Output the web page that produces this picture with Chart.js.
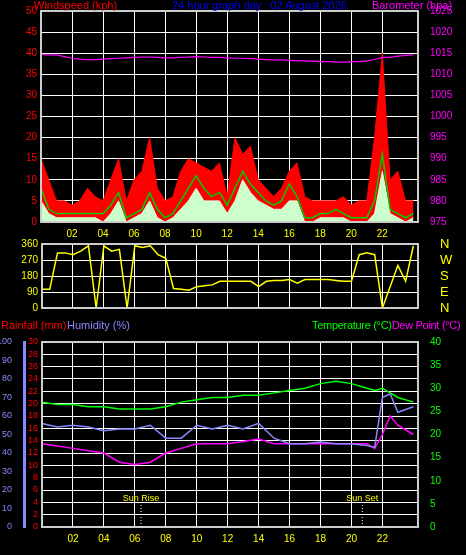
<!DOCTYPE html>
<html><head><meta charset="utf-8">
<script src="https://cdn.jsdelivr.net/npm/chart.js@4"></script>
<style>
body{margin:0;background:#000;width:466px;height:555px;overflow:hidden;font-family:"Liberation Sans",sans-serif;}
canvas{position:absolute;left:0;}
.t{position:absolute;font-size:11px;white-space:nowrap;z-index:2;}
</style></head><body>
<div class="t" style="left:34px;top:-1px;color:#f00">Windspeed (kph)</div>
<div class="t" style="left:172px;top:-1px;color:#00f">24 hour graph day : 02 August 2026</div>
<div class="t" style="left:372px;top:-1px;color:#f0f">Barometer (hpa)</div>
<div class="t" style="left:1px;top:319px;color:#f00">Rainfall (mm)</div>
<div class="t" style="left:67px;top:319px;color:#88f">Humidity (%)</div>
<div class="t" style="left:312px;top:319px;color:#0f0;letter-spacing:-0.3px">Temperature (°C)<span style="color:#f0f">Dew Point (°C)</span></div>
<canvas id="c1" width="466" height="245" style="top:0"></canvas>
<canvas id="c2" width="466" height="125" style="top:222px"></canvas>
<canvas id="c3" width="466" height="237" style="top:318px"></canvas>
<script>
const halfHours=[0,0.5,1,1.5,2,2.5,3,3.5,4,4.5,5,5.5,6,6.5,7,7.5,8,8.5,9,9.5,10,10.5,11,11.5,12,12.5,13,13.5,14,14.5,15,15.5,16,16.5,17,17.5,18,18.5,19,19.5,20,20.5,21,21.5,22,22.5,23,23.5,24];
const gust=[15,10,5,5,4,5,8,6,5,10,15,5,10,12,20,8,5,6,12,15,14,13,12,14,6,20,16,18,10,8,6,8,12,14,6,5,5,5,5,6,4,5,5,20,40,10,12,5,5];
const windAvg=[8,3,2,2,2,2,2,2,2,4,7,1,2,3,7,3,1,2,5,8,11,8,6,7,4,8,12,9,7,5,4,5,9,6,1,1,2,2,3,2,1,1,1,5,16,3,2,1,2];
const windLow=[5,2,1,1,1,1,1,1,0,2,5,0,1,2,5,1,0,1,3,5,8,5,5,5,2,5,10,7,5,4,3,3,5,5,0,0,1,1,1,1,0,0,0,2,12,2,1,0,1];
const baro=[1014.7,1014.6,1014.6,1014.2,1013.8,1013.6,1013.5,1013.5,1013.6,1013.7,1013.8,1013.9,1014,1014.1,1014.1,1014,1013.9,1013.9,1014,1014.1,1014.2,1014.1,1014,1014,1013.9,1013.8,1013.8,1013.7,1013.6,1013.5,1013.4,1013.4,1013.3,1013.2,1013.2,1013.1,1013,1013,1012.9,1012.9,1013,1013,1013.2,1013.5,1014,1014,1014.3,1014.5,1014.6];
const windDir=[105,105,310,310,300,320,350,0,350,320,330,0,350,340,350,300,280,110,105,100,120,125,130,150,150,150,150,150,120,150,155,155,160,140,160,160,160,160,155,150,150,300,310,300,0,120,240,150,350];
const hours=[0,1,2,3,4,5,6,7,8,9,10,11,12,13,14,15,16,17,18,19,20,21,21.5,22,22.5,23,24];
const temp=[27,26.5,26.5,26,26,25.5,25.5,25.5,26,27,27.5,28,28,28.5,28.5,29,29.5,30,31,31.5,31,30,29.5,30,29,28,27];
const humidity=[56,54,55,54,52,53,53,55,48,48,55,53,55,53,56,48,45,45,46,45,45,44,43,70,72,62,65];
const dewPoint=[18,17.5,17,16.5,16,14,13.5,14,16,17,18,18,18,18.5,19,18,18,18,18,18,18,18,17,20,24,22,20];
const rain=[0,0,0,0,0,0,0,0,0,0,0,0,0,0,0,0,0,0,0,0,0,0,0,0,0,0,0];
const hourTicks=['02','04','06','08','10','12','14','16','18','20','22','00'];
const compass=['N','E','S','W','N'];

Chart.defaults.font.family='"Liberation Sans",sans-serif';
Chart.defaults.font.size=10;
Chart.defaults.animation=false;
const pts=(xs,ys)=>xs.map((x,i)=>({x,y:ys[i]}));
const grid={color:'#fff',borderDash:[1,3],drawTicks:false};
const border={color:'#ccc',width:2};
function xAxis(color,h){return {type:'linear',min:0,max:24.3,
  ticks:{stepSize:2,color:color,autoSkip:false,padding:6,maxRotation:0,
    callback:v=>(v>0&&v%2===0)?hourTicks[v/2-1]:''},
  grid:grid,border:border,afterFit:s=>{s.height=h;}};}
function yAxis(pos,min,max,step,color,w,extra,font){return Object.assign({position:pos,min,max,
  ticks:{stepSize:step,color,padding:4,autoSkip:false,font:font||{size:10},callback:v=>String(v)},
  grid:{display:false},border:{color,width:1},afterFit:s=>{s.width=w;}},extra||{});}
const box={id:'box',afterDraw(c){const a=c.chartArea,x=c.ctx;x.save();x.strokeStyle='#ccc';x.lineWidth=2;x.strokeRect(a.left,a.top,a.right-a.left,a.bottom-a.top);x.restore();}};
const plug={legend:{display:false},tooltip:{enabled:false}};

new Chart(document.getElementById('c1'),{type:'line',
 data:{datasets:[
  {data:pts(halfHours,windLow),borderColor:'#dfd',backgroundColor:'#ccffcc',fill:'origin',borderWidth:1,pointRadius:0,yAxisID:'y',order:2},
  {data:pts(halfHours,gust),borderColor:'#f00',backgroundColor:'#f00',fill:'origin',borderWidth:1,pointRadius:0,yAxisID:'y',order:3},
  {data:pts(halfHours,windAvg),borderColor:'#0c0',borderWidth:1.5,pointRadius:0,yAxisID:'y',order:1},
  {data:pts(halfHours,baro),borderColor:'#f0f',borderWidth:1.2,pointRadius:0,yAxisID:'y2',order:0}]},
 options:{responsive:false,layout:{autoPadding:false,padding:{top:11}},plugins:plug,
  scales:{x:xAxis('#ff0',23),
   y:yAxis('left',0,50,5,'#f00',41,{grid:grid}),
   y2:yAxis('right',975,1025,5,'#f0f',48)}},plugins:[box]});

new Chart(document.getElementById('c2'),{type:'line',
 data:{datasets:[{data:pts(halfHours,windDir),borderColor:'#ff0',borderWidth:1.5,pointRadius:0,yAxisID:'y'},
  {data:[],yAxisID:'y2'}]},
 options:{responsive:false,layout:{autoPadding:false,padding:{top:22,bottom:0}},plugins:plug,
  scales:{x:xAxis('rgba(0,0,0,0)',39),
   y:yAxis('left',0,360,90,'#ff0',42,{grid:grid}),
   y2:yAxis('right',0,360,90,'#ff0',48,{ticks:{stepSize:90,color:'#ff0',padding:14,autoSkip:false,font:{size:13},callback:v=>compass[v/90]}})}},plugins:[box]});

const sunPlugin={id:'sun',afterDatasetsDraw(c){const x=c.ctx,xs=c.scales.x,a=c.chartArea;
 [[6.4,'Sun Rise'],[20.7,'Sun Set']].forEach(([h,t])=>{const px=xs.getPixelForValue(h);
  x.save();x.strokeStyle='#fff';x.setLineDash([1,2]);x.beginPath();x.moveTo(px,a.bottom-22);x.lineTo(px,a.bottom);x.stroke();
  x.fillStyle='#ff0';x.font='9px "Liberation Sans"';x.textAlign='center';x.fillText(t,px,a.bottom-26);x.restore();});}};

new Chart(document.getElementById('c3'),{type:'line',
 data:{datasets:[
  {data:pts(hours,rain),borderColor:'#f00',borderWidth:2,pointRadius:0,yAxisID:'yr'},
  {data:pts(hours,humidity),borderColor:'#88f',borderWidth:1.5,pointRadius:0,yAxisID:'yh'},
  {data:pts(hours,temp),borderColor:'#0f0',borderWidth:1.5,pointRadius:0,yAxisID:'yt'},
  {data:pts(hours,dewPoint),borderColor:'#f0f',borderWidth:1.5,pointRadius:0,yAxisID:'yt'}]},
 options:{responsive:false,layout:{autoPadding:false,padding:{top:24}},plugins:plug,
  scales:{x:xAxis('#ff0',28),
   yr:yAxis('left',0,30,2,'#f00',18,{grid:grid},{size:9}),
   yh:yAxis('left',0,100,10,'#88f',24,{border:{color:'#88f',width:3}},{size:9}),
   yt:yAxis('right',0,40,5,'#0f0',48)}},plugins:[box,sunPlugin]});
</script></body></html>
